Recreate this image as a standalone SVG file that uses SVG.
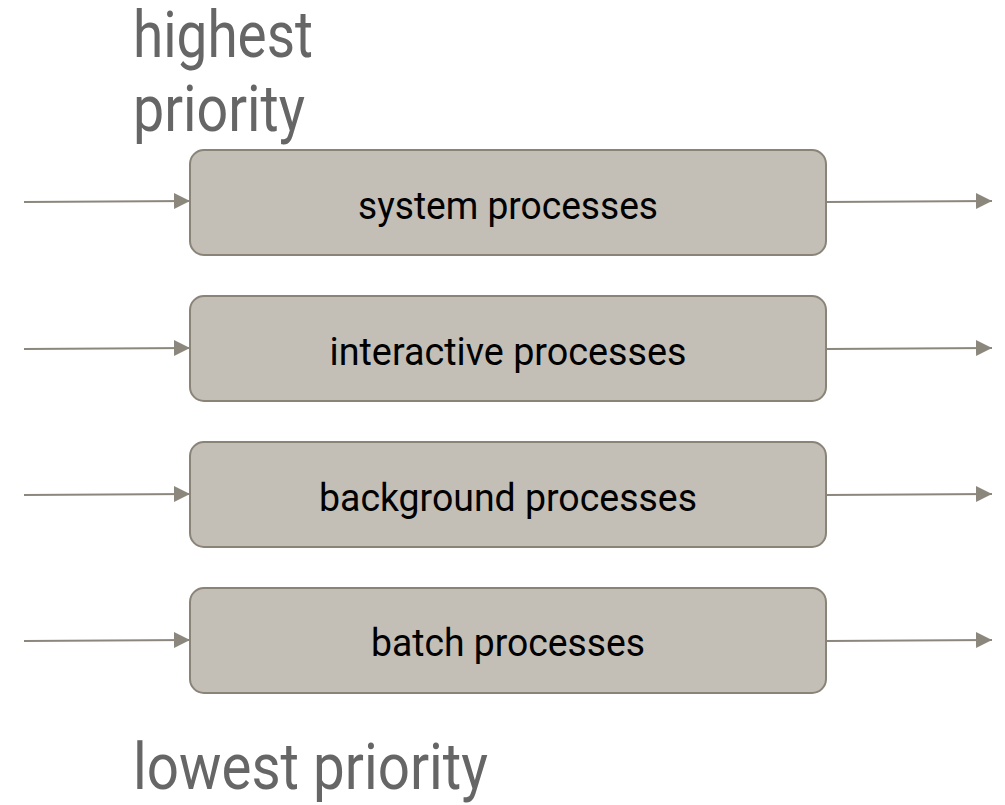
<svg xmlns="http://www.w3.org/2000/svg" width="1005" height="805" viewBox="0 0 1005 805">
<style>
.box{fill:#c3beb6;stroke:#8a8478;stroke-width:2}
.lbl{font-family:Roboto,"Liberation Sans",sans-serif;font-size:39px;fill:#000;text-anchor:middle}
.ttl{font-family:Roboto,"Liberation Sans",sans-serif;font-size:64px;fill:#666666}
.edge{stroke:#8c877d;stroke-width:2;fill:none;marker-end:url(#ah)}
</style>
<defs>
<marker id="ah" markerUnits="userSpaceOnUse" markerWidth="18" markerHeight="18" refX="16" refY="8" orient="auto">
<path d="M0,0 L16,8 L0,16 Z" fill="#8c877d"/>
</marker>
</defs>
<rect width="1005" height="805" fill="#fff"/>
<g id="title-high">
<text class="ttl" x="133" y="57" textLength="180" lengthAdjust="spacingAndGlyphs">highest</text>
<text class="ttl" x="133" y="131" textLength="172" lengthAdjust="spacingAndGlyphs">priority</text>
</g>
<g id="title-low">
<text class="ttl" x="133" y="789" textLength="355" lengthAdjust="spacingAndGlyphs">lowest priority</text>
</g>
<g id="connectors">
<line class="edge" x1="24" y1="202" x2="190" y2="201"/>
<line class="edge" x1="826" y1="202" x2="992" y2="201"/>
<line class="edge" x1="24" y1="349" x2="190" y2="348"/>
<line class="edge" x1="826" y1="349" x2="992" y2="348"/>
<line class="edge" x1="24" y1="495" x2="190" y2="494"/>
<line class="edge" x1="826" y1="495" x2="992" y2="494"/>
<line class="edge" x1="24" y1="641" x2="190" y2="640"/>
<line class="edge" x1="826" y1="641" x2="992" y2="640"/>
</g>
<g id="node-system">
<rect class="box" x="190" y="150" width="636" height="105" rx="14"/>
<text class="lbl" x="508" y="219" textLength="300" lengthAdjust="spacingAndGlyphs">system processes</text>
</g>
<g id="node-interactive">
<rect class="box" x="190" y="296" width="636" height="105" rx="14"/>
<text class="lbl" x="508" y="365" textLength="357" lengthAdjust="spacingAndGlyphs">interactive processes</text>
</g>
<g id="node-background">
<rect class="box" x="190" y="442" width="636" height="105" rx="14"/>
<text class="lbl" x="508" y="511" textLength="378" lengthAdjust="spacingAndGlyphs">background processes</text>
</g>
<g id="node-batch">
<rect class="box" x="190" y="588" width="636" height="105" rx="14"/>
<text class="lbl" x="508" y="656" textLength="274" lengthAdjust="spacingAndGlyphs">batch processes</text>
</g>
</svg>
